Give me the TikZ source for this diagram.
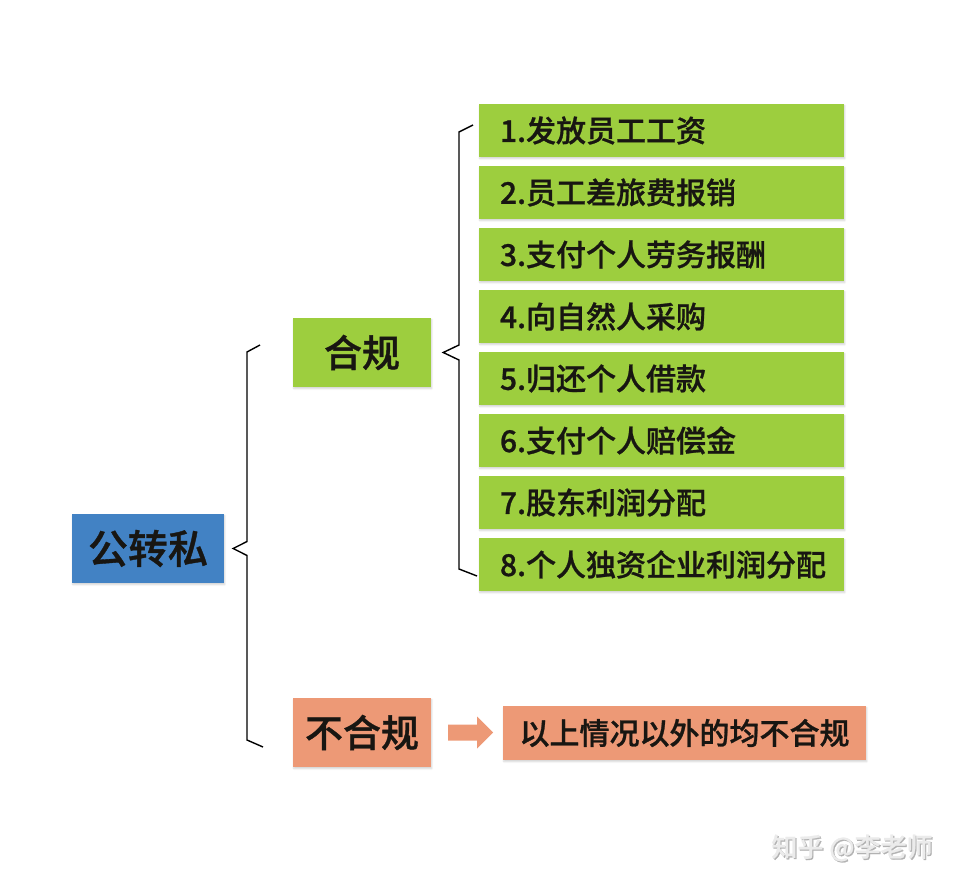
\documentclass[tikz,border=0pt]{standalone}
\usepackage{fontspec}
\newfontfamily\cjk{Noto Sans CJK SC}[UprightFont=* Medium, FakeBold=0.9]
\usetikzlibrary{calc,shadows.blur}

\definecolor{leafgreen}{RGB}{157,206,62}
\definecolor{seablue}{RGB}{66,130,196}
\definecolor{salmon}{RGB}{237,153,118}
\definecolor{inkdark}{RGB}{24,22,18}

\tikzset{
  soft/.style={blur shadow={shadow xshift=0.8pt, shadow yshift=-1.6pt, shadow blur steps=6, shadow opacity=18}},
  itembox/.style={fill=leafgreen, minimum width=365pt, minimum height=53pt, inner sep=0pt, soft},
  itemtext/.style={anchor=west, inner sep=0pt, text=inkdark, font=\cjk\fontsize{30}{36}\selectfont},
  headbox/.style={minimum width=138pt, minimum height=69pt, inner sep=0pt, text=inkdark,
                  font=\cjk\fontsize{38}{44}\selectfont, soft},
  bracket/.style={draw=black, line width=1.4pt, line join=miter},
  signature/.style={font=\cjk\fontsize{26}{30}\selectfont, inner sep=0pt}
}

\begin{document}
\begin{tikzpicture}[x=1pt, y=-1pt]
  \useasboundingbox (0,0) rectangle (966,890);

  % root
  \node[headbox, fill=seablue, minimum width=152pt, font=\cjk\fontsize{40}{46}\selectfont]
       (root) at (148,548.5) {公转私};

  % branches
  \node[headbox, fill=leafgreen] (ok) at (362,352.5) {合规};
  \node[headbox, fill=salmon]    (no) at (362,732.5) {不合规};

  % compliant cases
  \foreach \i/\txt in {1/{1.发放员工工资}, 2/{2.员工差旅费报销}, 3/{3.支付个人劳务报酬},
                       4/{4.向自然人采购}, 5/{5.归还个人借款}, 6/{6.支付个人赔偿金},
                       7/{7.股东利润分配}, 8/{8.个人独资企业利润分配}} {
    \node[itembox] (g\i) at (661.5,{130.5+62*(\i-1)}) {};
    \node[itemtext] (t\i) at ([xshift=21pt]g\i.west) {\txt};
  }

  % non-compliant result
  \node[fill=salmon, minimum width=363pt, minimum height=54pt, inner sep=0pt, text=inkdark,
        font=\cjk\fontsize{30}{36}\selectfont, soft] (rest) at (684.5,733) {以上情况以外的均不合规};

  % block arrow between the two salmon boxes
  \fill[salmon] ($(no.east)+(17,-8)$) -- ++(29,0) -- ++(0,-8) -- ++(16,16)
                -- ++(-16,16) -- ++(0,-8) -- ++(-29,0) -- cycle;

  % big bracket from the root to both branches
  \coordinate (Ltop) at (260,345);
  \coordinate (Ltip) at ([xshift=9pt]root.east);
  \coordinate (Lbot) at (263,747);
  \draw[bracket] (Ltop) -- (247,352) -- (247,541.5) -- (Ltip) -- (247,555.5) -- (247,740) -- (Lbot);

  % bracket from the compliant branch to its eight cases
  \coordinate (Rtop) at (473,125);
  \coordinate (Rtip) at ([xshift=12pt]ok.east);
  \coordinate (Rbot) at (477,576);
  \draw[bracket] (Rtop) -- (459,132) -- (459,345) -- (Rtip) -- (459,360) -- (459,569) -- (Rbot);

  % watermark
  \node[signature, text=black!30] (wmshade) at (853.2,849.2) {知乎 @李老师};
  \node[signature, text=black!8] (wm) at (852,848) {知乎 @李老师};
\end{tikzpicture}
\end{document}
